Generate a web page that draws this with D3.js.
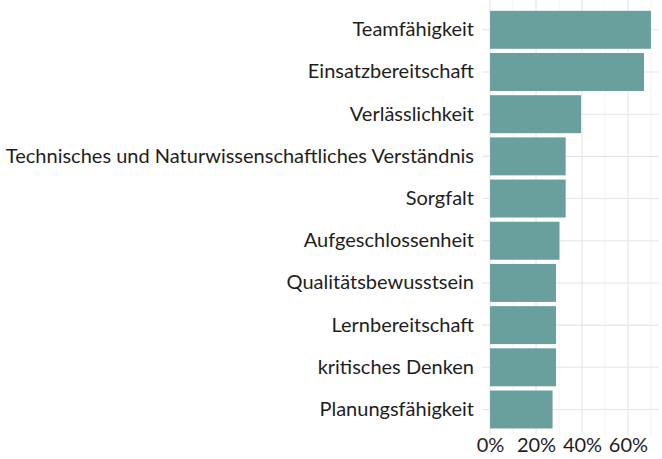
<!DOCTYPE html>
<html>
<head>
<meta charset="utf-8">
<script src="https://cdn.jsdelivr.net/npm/d3@7"></script>
<style>
  body { margin: 0; background: #fff; }
  text { font-family: Lato, sans-serif; }
</style>
</head>
<body>
<div id="chart"></div>
<script>
const categories = [
    'Teamfähigkeit', 'Einsatzbereitschaft', 'Verlässlichkeit',
    'Technisches und Naturwissenschaftliches Verständnis', 'Sorgfalt',
    'Aufgeschlossenheit', 'Qualitätsbewusstsein', 'Lernbereitschaft',
    'kritisches Denken', 'Planungsfähigkeit'
];
const shares = [0.70, 0.67, 0.396, 0.329, 0.329, 0.302, 0.287, 0.287, 0.287, 0.272];
const xTicks = [0, 0.2, 0.4, 0.6];
const xMinor = [0.1, 0.3, 0.5, 0.7];

const dims = {width: 662, height: 459};
const panel = {left: 482, right: 659, top: 4.5, bottom: 434.8};

const svg = d3.select('#chart')
    .append('svg')
    .attr('width', dims.width)
    .attr('height', dims.height);

const x = d3.scaleLinear()
    .domain([-0.035, 0.735])
    .range([panel.left, panel.right]);

const y = d3.scaleBand()
    .domain(categories)
    .range([panel.top, panel.bottom])
    .paddingInner(0.1)
    .paddingOuter(0.15);

// grid
const grid = svg.append('g');
grid.selectAll('.minor')
    .data(xMinor)
    .enter().append('line')
        .attr('x1', d => x(d)).attr('x2', d => x(d))
        .attr('y1', 0).attr('y2', panel.bottom)
        .attr('stroke', '#f0f0f0').attr('stroke-width', 0.8);
grid.selectAll('.major')
    .data(xTicks)
    .enter().append('line')
        .attr('x1', d => x(d)).attr('x2', d => x(d))
        .attr('y1', 0).attr('y2', panel.bottom)
        .attr('stroke', '#e6e6e6').attr('stroke-width', 1.1);
grid.selectAll('.hmajor')
    .data(categories)
    .enter().append('line')
        .attr('x1', panel.left).attr('x2', panel.right)
        .attr('y1', d => y(d) + y.bandwidth() / 2)
        .attr('y2', d => y(d) + y.bandwidth() / 2)
        .attr('stroke', '#e6e6e6').attr('stroke-width', 1.1);

// bars
svg.append('g')
    .selectAll('rect')
    .data(categories)
    .enter().append('rect')
        .attr('x', x(0))
        .attr('y', d => y(d))
        .attr('width', (d, i) => x(shares[i]) - x(0))
        .attr('height', y.bandwidth())
        .attr('fill', '#69a09d');

// y axis labels
const yAxis = svg.append('g')
    .attr('transform', `translate(${panel.left}, 0)`)
    .call(d3.axisLeft(y).tickSize(0).tickPadding(8));
yAxis.select('.domain').remove();
yAxis.selectAll('text')
    .attr('font-size', 20)
    .attr('fill', '#1e1e1e')
    .style('font-family', 'Lato, sans-serif');

// x axis labels
const xAxis = svg.append('g')
    .attr('transform', `translate(0, ${panel.bottom})`)
    .call(d3.axisBottom(x).tickValues(xTicks).tickFormat(d3.format('.0%')).tickSize(0).tickPadding(3));
xAxis.select('.domain').remove();
xAxis.selectAll('text')
    .attr('font-size', 20)
    .attr('fill', '#1e1e1e')
    .style('font-family', 'Lato, sans-serif');
</script>
</body>
</html>
